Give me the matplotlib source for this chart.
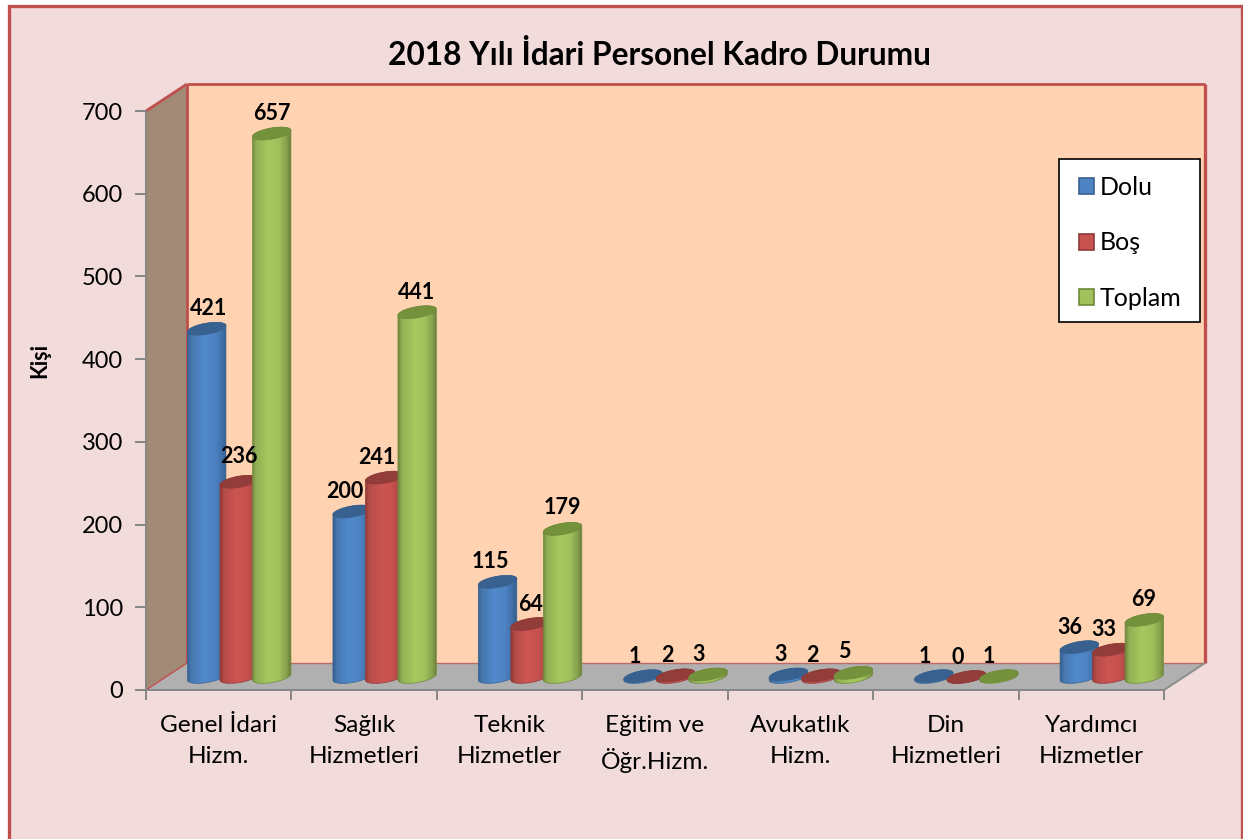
import numpy as np
import matplotlib
matplotlib.use("Agg")
import matplotlib.pyplot as plt
from matplotlib.patches import Polygon, Rectangle, Patch
from matplotlib.lines import Line2D

plt.rcParams['font.family'] = ['Lato', 'DejaVu Sans']

# ---- data
categories = ["Genel İdari\nHizm.", "Sağlık\nHizmetleri", "Teknik\nHizmetler", "Eğitim ve\nÖğr.Hizm.",
              "Avukatlık\nHizm.", "Din\nHizmetleri", "Yardımcı\nHizmetler"]
dolu = [421, 200, 115, 1, 3, 1, 36]
bos = [236, 241, 64, 2, 2, 0, 33]
toplam = [657, 441, 179, 3, 5, 1, 69]
series_names = ["Dolu", "Boş", "Toplam"]
yticks = [0, 100, 200, 300, 400, 500, 600, 700]

# ---- label nudges (px): x, y
nudges = {0: [(2, 0), (0, 5), (0, 0)], 1: [(-7, 0), (-8, 0), (-1, 0)], 2: [(-7.5, 0), (0, 0), (0, 1)],
          3: [(-8, 0), (-8, 0), (-9, 0)], 4: [(-8, 0), (-9, 0), (-9, 1)], 5: [(-9, 0), (-9, 0), (-10, 0)],
          6: [(-9, 0), (-8, 0), (-1, 0)]}

# ---- style
W, H = 1243, 839
L, R, T, B = 146, 1164, 111, 690
DX, DY = 41, 27
RED = "#C0504D"
GRAY = "#868686"
styles = [
    dict(stops=["#2F5A8B", "#4777AE", "#5089CC", "#4E84C4", "#3F6EA5", "#2E5784"], cap="#38618F", edge="#38618F"),
    dict(stops=["#853432", "#B54B48", "#CC5552", "#C8524F", "#A94644", "#7F3230"], cap="#923D3A", edge="#8E3A38"),
    dict(stops=["#66793A", "#92B054", "#A5C85F", "#A0C15C", "#859F4B", "#5E7233"], cap="#74913C", edge="#6F8A39"),
]
stop_pos = [0, 0.12, 0.42, 0.68, 0.88, 1]
hexrgb = matplotlib.colors.to_rgb

fig = plt.figure(figsize=(W / 100, H / 100), dpi=100, facecolor="white")


def fx(x): return x / W
def fy(y): return 1 - y / H


# chart frame
fig.patches.append(Rectangle((fx(8.5), fy(H + 5)), fx(1242 - 8.5), fy(6) - fy(H + 5), transform=fig.transFigure,
                             fc="#F2DCDB", ec=RED, lw=2.4, zorder=-5))

ax = fig.add_axes([fx(L), fy(B), fx(R - L), fy(T) - fy(B)])
ax.patch.set_visible(False)
PXX = (R - L) / len(categories)
PXY = (B - T) / 700


def P(x_px, y_px):
    """Offsets in screen px from plot origin (y up) -> data."""
    return x_px / PXX, y_px / PXY


def wall(points, **kw):
    pts = [P(a, b) for a, b in points]
    ax.add_patch(Polygon(pts, closed=True, clip_on=False, **kw))


w = R - L
h = B - T
wall([(DX, DY), (w + DX, DY), (w + DX, h + DY), (DX, h + DY)], fc="#FFD3B1", ec="none", zorder=1)
wall([(0, 0), (DX, DY), (DX, h + DY), (0, h)], fc="#A38A77", ec="none", zorder=1)
wall([(0, 0), (w, 0), (w + DX, DY), (DX, DY)], fc="#B0B0B0", ec="none", zorder=1)


def edge(a, b, color, lw):
    p, q = P(*a), P(*b)
    ax.add_line(Line2D([p[0], q[0]], [p[1], q[1]], color=color, lw=lw, clip_on=False, zorder=2,
                       solid_capstyle="butt"))


edge((DX, DY), (DX, h + DY), RED, 2.0)
edge((DX, h + DY), (w + DX, h + DY), RED, 2.0)
edge((w + DX, DY), (w + DX, h + DY), RED, 2.4)
edge((0, h), (DX, h + DY), RED, 2.0)
edge((DX, DY), (w + DX, DY), "#B86B68", 1.0)
edge((0, 0), (DX, DY), RED, 1.0)
edge((w, 0), (w + DX, DY), "#8C8C8C", 1.4)

# cylinders
RX, RY, TILT = 19.5, 5.5, np.radians(10)
SPACING = 32.5
BASE = 13.0


def ell(cx_px, cy_px, t):
    x = cx_px + RX * np.cos(t) * np.cos(TILT) - RY * np.sin(t) * np.sin(TILT)
    y = cy_px + RX * np.cos(t) * np.sin(TILT) + RY * np.sin(t) * np.cos(TILT)
    return x / PXX, y / PXY


def cylinder(cx_px, value, st, z):
    top = value * PXY + BASE
    t1 = np.linspace(np.pi, 2 * np.pi, 50)
    t2 = np.linspace(0, np.pi, 50)
    bx, by = ell(cx_px, BASE, t1)
    tx, ty = ell(cx_px, top, t2)
    verts = np.column_stack([np.r_[bx, tx], np.r_[by, ty]])
    u = np.linspace(0, 1, 128)
    rgb = np.array([hexrgb(c) for c in st["stops"]])
    grad = np.stack([np.interp(u, stop_pos, rgb[:, i]) for i in range(3)], axis=1)[None, :, :]
    x0, x1 = (cx_px - RX - 1) / PXX, (cx_px + RX + 1) / PXX
    y0, y1 = (BASE - 12) / PXY, (top + 12) / PXY
    im = ax.imshow(grad, extent=[x0, x1, y0, y1], aspect="auto", zorder=z, interpolation="bilinear")
    clip = Polygon(verts, closed=True, transform=ax.transData, fc="none", ec="none")
    im.set_clip_path(clip)
    ax.add_patch(Polygon(verts, closed=True, fc="none", ec=st["edge"], lw=0.6, alpha=0.8, zorder=z + 0.1))
    t = np.linspace(0, 2 * np.pi, 100)
    cx, cy = ell(cx_px, top, t)
    ax.add_patch(Polygon(np.column_stack([cx, cy]), closed=True, fc=st["cap"], ec=st["edge"], lw=0.5,
                         zorder=z + 0.2))
    return top


all_series = [dolu, bos, toplam]
for i in range(len(categories)):
    centre = (i + 0.5) * PXX + DX / 2
    for j, vals in enumerate(all_series):
        cx_px = centre + (j - 1) * SPACING
        top = cylinder(cx_px, vals[i], styles[j], 3 + i * 0.01 + j)
        nx, ny = nudges[i][j]
        ax.text((cx_px + nx) / PXX, (top + 20 + ny) / PXY, str(vals[i]), ha="center", va="center",
                fontsize=15.5, fontweight="bold", color="black", zorder=20, clip_on=False)

# axes furniture
ax.set_xlim(0, len(categories))
ax.set_ylim(0, 700)
ax.set_yticks(yticks)
ax.set_xticks(np.arange(len(categories) + 1))
ax.set_xticklabels([])
ax.set_xticks(np.arange(len(categories)) + 0.5, minor=True)
ax.set_xticklabels(categories, minor=True, fontsize=17.6, linespacing=1.6, color="black")
ax.tick_params(axis="x", which="minor", length=0, pad=17.8)
ax.tick_params(axis="x", which="major", length=7, color=GRAY, width=1.4)
ax.tick_params(axis="y", length=8, color=GRAY, width=1.4, labelsize=17, pad=8.5)
for s in ("top", "right"):
    ax.spines[s].set_visible(False)
for s in ("left", "bottom"):
    ax.spines[s].set_color(GRAY)
    ax.spines[s].set_linewidth(1.4)
    ax.spines[s].set_zorder(2.5)

fig.text(fx(659), fy(55), "2018 Yılı İdari Personel Kadro Durumu", ha="center", va="center",
         fontsize=22.8, fontweight="bold", color="black")
fig.text(fx(40), fy(360), "Kişi", rotation=90, ha="center", va="center", fontsize=15.5, fontweight="bold")

ax.add_patch(Rectangle((fx(1058.5), fy(322)), fx(1200 - 1058.5), fy(159) - fy(322), transform=fig.transFigure,
                       fc="white", ec="black", lw=1.2, clip_on=False, zorder=29))
handles = [Patch(fc=styles[k]["stops"][3], ec=styles[k]["edge"], lw=1.2, label=series_names[k]) for k in range(3)]
leg = ax.legend(handles=handles, loc="upper left", bbox_to_anchor=(fx(1079), fy(176)),
                bbox_transform=fig.transFigure, borderaxespad=0, fontsize=18, frameon=False, borderpad=0,
                handlelength=0.6, handleheight=0.6, handletextpad=0.22, labelspacing=1.3)
leg.set_zorder(30)

fig.savefig("out.png", dpi=100)
